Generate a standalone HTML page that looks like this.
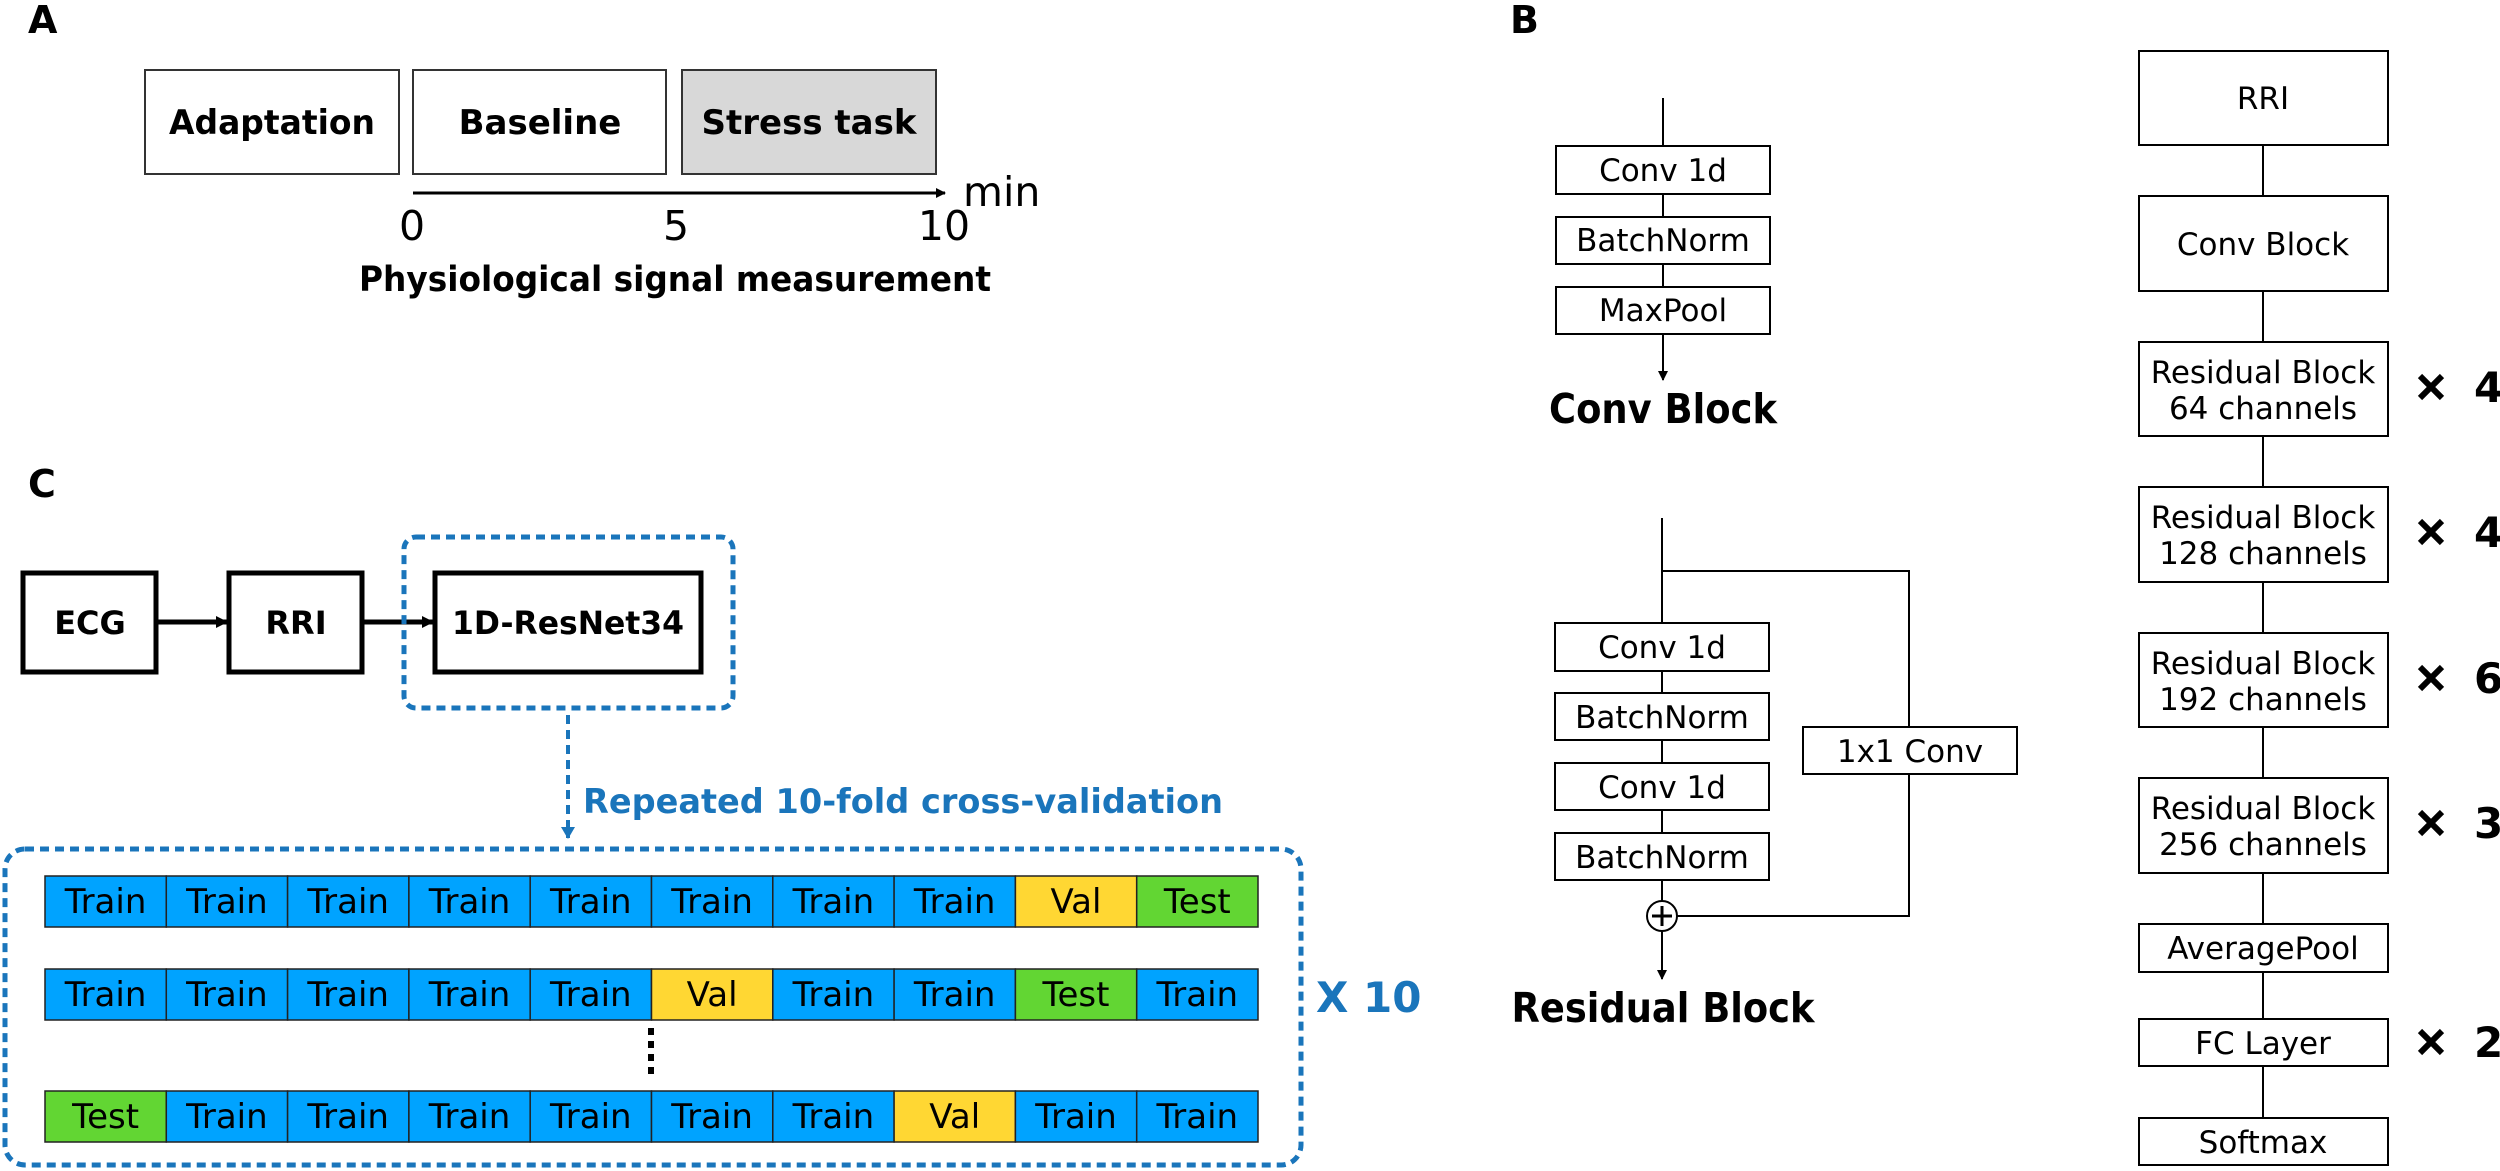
<!DOCTYPE html>
<html><head><meta charset="utf-8"><style>
html,body{margin:0;padding:0;background:#fff;}
svg{display:block;}
text{font-family:"DejaVu Sans","Liberation Sans",sans-serif;}
</style></head><body>
<svg width="2500" height="1171" viewBox="0 0 2500 1171" xmlns="http://www.w3.org/2000/svg">
<defs>
<marker id="ah" markerWidth="10" markerHeight="10" refX="9" refY="5" orient="auto" markerUnits="userSpaceOnUse"><path d="M0,0 L10,5 L0,10 z" fill="#000"/></marker>
<marker id="ahs" markerWidth="12" markerHeight="12" refX="11" refY="6" orient="auto" markerUnits="userSpaceOnUse"><path d="M0,0 L12,6 L0,12 z" fill="#000"/></marker>
<marker id="ahb" markerWidth="12" markerHeight="14" refX="11" refY="7" orient="auto" markerUnits="userSpaceOnUse"><path d="M0,0 L12,7 L0,14 z" fill="#1a75bb"/></marker>
</defs>

<!-- Panel A -->
<text x="28" y="33" font-size="38" font-weight="bold">A</text>
<g stroke="#333" stroke-width="2">
<rect x="145" y="70" width="254" height="104" fill="#fff"/>
<rect x="413" y="70" width="253" height="104" fill="#fff"/>
<rect x="682" y="70" width="254" height="104" fill="#d8d8d8"/>
</g>
<g font-size="34" font-weight="bold" text-anchor="middle">
<text x="272" y="134" textLength="206" lengthAdjust="spacingAndGlyphs">Adaptation</text>
<text x="540" y="134">Baseline</text>
<text x="809" y="134">Stress task</text>
</g>
<line x1="413" y1="193" x2="945" y2="193" stroke="#000" stroke-width="3" marker-end="url(#ah)"/>
<text x="963" y="206" font-size="41">min</text>
<g font-size="41" text-anchor="middle">
<text x="412" y="240">0</text>
<text x="676" y="240">5</text>
<text x="944" y="240">10</text>
</g>
<text x="675" y="291" font-size="35" font-weight="bold" text-anchor="middle" textLength="632" lengthAdjust="spacingAndGlyphs">Physiological signal measurement</text>

<!-- Panel C -->
<text x="28" y="497" font-size="38" font-weight="bold">C</text>
<g stroke="#000" stroke-width="5" fill="#fff">
<rect x="23" y="573" width="133" height="99"/>
<rect x="229" y="573" width="133" height="99"/>
<rect x="435" y="573" width="266" height="99"/>
</g>
<g font-size="32" font-weight="bold" text-anchor="middle">
<text x="90" y="634">ECG</text>
<text x="296" y="634">RRI</text>
<text x="568" y="634" textLength="232" lengthAdjust="spacingAndGlyphs">1D-ResNet34</text>
</g>
<line x1="156" y1="622" x2="227" y2="622" stroke="#000" stroke-width="5" marker-end="url(#ahs)"/>
<line x1="362" y1="622" x2="433" y2="622" stroke="#000" stroke-width="5" marker-end="url(#ahs)"/>
<rect x="404" y="537" width="329" height="171" rx="12" fill="none" stroke="#1a75bb" stroke-width="5" stroke-dasharray="9 6"/>
<line x1="568" y1="715" x2="568" y2="838" stroke="#1a75bb" stroke-width="4" stroke-dasharray="9 6" marker-end="url(#ahb)"/>
<text x="583" y="813" font-size="34" font-weight="bold" fill="#1a75bb" textLength="640" lengthAdjust="spacingAndGlyphs">Repeated 10-fold cross-validation</text>
<rect x="5" y="849" width="1296" height="316" rx="20" fill="none" stroke="#1a75bb" stroke-width="5" stroke-dasharray="9 6"/>
<text x="1316" y="1012" font-size="42" font-weight="bold" fill="#1a75bb">X 10</text>

<g font-size="34" text-anchor="middle" stroke="none">
<g stroke="#222" stroke-width="1.5">
<rect x="45" y="876" width="121.3" height="51" fill="#00a3ff"/><rect x="166.3" y="876" width="121.3" height="51" fill="#00a3ff"/><rect x="287.6" y="876" width="121.3" height="51" fill="#00a3ff"/><rect x="408.9" y="876" width="121.3" height="51" fill="#00a3ff"/><rect x="530.2" y="876" width="121.3" height="51" fill="#00a3ff"/><rect x="651.5" y="876" width="121.3" height="51" fill="#00a3ff"/><rect x="772.8" y="876" width="121.3" height="51" fill="#00a3ff"/><rect x="894.1" y="876" width="121.3" height="51" fill="#00a3ff"/><rect x="1015.4" y="876" width="121.3" height="51" fill="#ffd733"/><rect x="1136.7" y="876" width="121.3" height="51" fill="#62d633"/>
</g>
<g>
<text x="105.6" y="913">Train</text><text x="226.9" y="913">Train</text><text x="348.2" y="913">Train</text><text x="469.5" y="913">Train</text><text x="590.8" y="913">Train</text><text x="712.1" y="913">Train</text><text x="833.4" y="913">Train</text><text x="954.7" y="913">Train</text><text x="1076" y="913">Val</text><text x="1197.3" y="913">Test</text>
</g>
<g stroke="#222" stroke-width="1.5">
<rect x="45" y="969" width="121.3" height="51" fill="#00a3ff"/><rect x="166.3" y="969" width="121.3" height="51" fill="#00a3ff"/><rect x="287.6" y="969" width="121.3" height="51" fill="#00a3ff"/><rect x="408.9" y="969" width="121.3" height="51" fill="#00a3ff"/><rect x="530.2" y="969" width="121.3" height="51" fill="#00a3ff"/><rect x="651.5" y="969" width="121.3" height="51" fill="#ffd733"/><rect x="772.8" y="969" width="121.3" height="51" fill="#00a3ff"/><rect x="894.1" y="969" width="121.3" height="51" fill="#00a3ff"/><rect x="1015.4" y="969" width="121.3" height="51" fill="#62d633"/><rect x="1136.7" y="969" width="121.3" height="51" fill="#00a3ff"/>
</g>
<g>
<text x="105.6" y="1006">Train</text><text x="226.9" y="1006">Train</text><text x="348.2" y="1006">Train</text><text x="469.5" y="1006">Train</text><text x="590.8" y="1006">Train</text><text x="712.1" y="1006">Val</text><text x="833.4" y="1006">Train</text><text x="954.7" y="1006">Train</text><text x="1076" y="1006">Test</text><text x="1197.3" y="1006">Train</text>
</g>
<g stroke="#222" stroke-width="1.5">
<rect x="45" y="1091" width="121.3" height="51" fill="#62d633"/><rect x="166.3" y="1091" width="121.3" height="51" fill="#00a3ff"/><rect x="287.6" y="1091" width="121.3" height="51" fill="#00a3ff"/><rect x="408.9" y="1091" width="121.3" height="51" fill="#00a3ff"/><rect x="530.2" y="1091" width="121.3" height="51" fill="#00a3ff"/><rect x="651.5" y="1091" width="121.3" height="51" fill="#00a3ff"/><rect x="772.8" y="1091" width="121.3" height="51" fill="#00a3ff"/><rect x="894.1" y="1091" width="121.3" height="51" fill="#ffd733"/><rect x="1015.4" y="1091" width="121.3" height="51" fill="#00a3ff"/><rect x="1136.7" y="1091" width="121.3" height="51" fill="#00a3ff"/>
</g>
<g>
<text x="105.6" y="1128">Test</text><text x="226.9" y="1128">Train</text><text x="348.2" y="1128">Train</text><text x="469.5" y="1128">Train</text><text x="590.8" y="1128">Train</text><text x="712.1" y="1128">Train</text><text x="833.4" y="1128">Train</text><text x="954.7" y="1128">Val</text><text x="1076" y="1128">Train</text><text x="1197.3" y="1128">Train</text>
</g>
</g>
<line x1="651" y1="1028" x2="651" y2="1080" stroke="#000" stroke-width="6" stroke-dasharray="7 6"/>

<!-- Panel B -->
<text x="1510" y="33" font-size="38" font-weight="bold">B</text>
<g stroke="#000" stroke-width="2" fill="none">
<line x1="1663" y1="98" x2="1663" y2="380" marker-end="url(#ah)"/>
<line x1="1662" y1="518" x2="1662" y2="979" marker-end="url(#ah)"/>
<polyline points="1662,571 1909,571 1909,916 1677,916"/>
<line x1="2263" y1="98" x2="2263" y2="1140"/>
</g>
<g stroke="#000" stroke-width="2" fill="#fff">
<rect x="1556" y="146" width="214" height="48"/>
<rect x="1556" y="217" width="214" height="47"/>
<rect x="1556" y="287" width="214" height="47"/>
<rect x="1555" y="623" width="214" height="48"/>
<rect x="1555" y="693" width="214" height="47"/>
<rect x="1555" y="763" width="214" height="47"/>
<rect x="1555" y="833" width="214" height="47"/>
<rect x="1803" y="727" width="214" height="47"/>
<circle cx="1662" cy="916" r="15"/>
<rect x="2139" y="51" width="249" height="94"/>
<rect x="2139" y="196" width="249" height="95"/>
<rect x="2139" y="342" width="249" height="94"/>
<rect x="2139" y="487" width="249" height="95"/>
<rect x="2139" y="633" width="249" height="94"/>
<rect x="2139" y="778" width="249" height="95"/>
<rect x="2139" y="924" width="249" height="48"/>
<rect x="2139" y="1019" width="249" height="47"/>
<rect x="2139" y="1118" width="249" height="47"/>
</g>
<g stroke="#000" stroke-width="3"><line x1="1652" y1="916" x2="1672" y2="916"/><line x1="1662" y1="906" x2="1662" y2="926"/></g>
<g font-size="31" text-anchor="middle">
<text x="1663" y="181">Conv 1d</text>
<text x="1663" y="251">BatchNorm</text>
<text x="1663" y="321">MaxPool</text>
<text x="1662" y="658">Conv 1d</text>
<text x="1662" y="728">BatchNorm</text>
<text x="1662" y="798">Conv 1d</text>
<text x="1662" y="868">BatchNorm</text>
<text x="1910" y="762">1x1 Conv</text>
<text x="2263" y="109">RRI</text>
<text x="2263" y="255">Conv Block</text>
<text x="2263" y="383">Residual Block</text><text x="2263" y="419">64 channels</text>
<text x="2263" y="528">Residual Block</text><text x="2263" y="564">128 channels</text>
<text x="2263" y="674">Residual Block</text><text x="2263" y="710">192 channels</text>
<text x="2263" y="819">Residual Block</text><text x="2263" y="855">256 channels</text>
<text x="2263" y="959">AveragePool</text>
<text x="2263" y="1054">FC Layer</text>
<text x="2263" y="1153">Softmax</text>
</g>
<g font-size="41" font-weight="bold" text-anchor="middle">
<text x="1663" y="423" textLength="228" lengthAdjust="spacingAndGlyphs">Conv Block</text>
<text x="1663" y="1022" textLength="303" lengthAdjust="spacingAndGlyphs">Residual Block</text>
</g>
<g stroke="#000" stroke-width="6" stroke-linecap="butt">
<path d="M2420,376 L2442,398 M2442,376 L2420,398"/>
<path d="M2420,521 L2442,543 M2442,521 L2420,543"/>
<path d="M2420,667 L2442,689 M2442,667 L2420,689"/>
<path d="M2420,812 L2442,834 M2442,812 L2420,834"/>
<path d="M2420,1031 L2442,1053 M2442,1031 L2420,1053"/>
</g>
<g font-size="42" font-weight="bold">
<text x="2474" y="402">4</text>
<text x="2474" y="547">4</text>
<text x="2474" y="693">6</text>
<text x="2474" y="838">3</text>
<text x="2474" y="1057">2</text>
</g>
</svg>
</body></html>
